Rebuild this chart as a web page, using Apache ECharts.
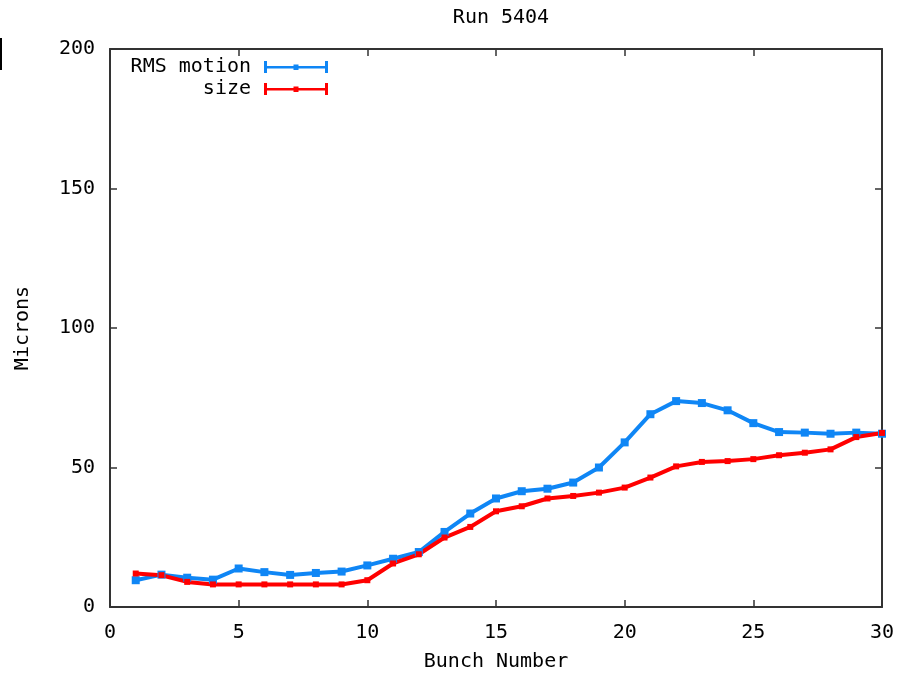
<!DOCTYPE html>
<html><head><meta charset="utf-8">
<script src="https://cdn.jsdelivr.net/npm/echarts@6/dist/echarts.min.js"></script>
<style>html,body{margin:0;padding:0;background:#fff}#c{width:899px;height:674px}</style>
</head><body><div id="c"></div>
<script>
const bunches = [1,2,3,4,5,6,7,8,9,10,11,12,13,14,15,16,17,18,19,20,21,22,23,24,25,26,27,28,29,30];
const rmsMotion = [9.6,11.6,10.5,9.8,13.8,12.5,11.5,12.2,12.7,14.9,17.3,19.7,26.9,33.5,38.9,41.5,42.4,44.6,50.0,59.0,69.1,73.8,73.1,70.5,65.9,62.7,62.5,62.1,62.5,62.1];
const size = [12.0,11.4,9.0,8.1,8.1,8.1,8.1,8.1,8.1,9.6,15.6,18.9,24.9,28.7,34.3,36.1,38.9,39.8,41.0,42.8,46.4,50.4,52.0,52.3,53.0,54.4,55.3,56.5,60.9,62.4];
const yTicks = [0,50,100,150,200];
const xTicks = [0,5,10,15,20,25,30];

const FONT = 'DejaVu Sans Mono';
const FS = 20;
const BLUE = '#0f86f5';
const RED = '#ff0000';
const AX = '#333333';
const legendIcon = 'path://M0,0h3v12h-3z M3,5h58v2.6h-58z M61,0h3v12h-3z M29.5,3.5h5v5.6h-5z';

const chart = echarts.init(document.getElementById('c'), null, {renderer: 'canvas'});
const axisLine = {show: true, onZero: false, lineStyle: {color: AX, width: 2}};
const tick = {show: true, inside: true, length: 7, lineStyle: {color: AX, width: 1.5}};
chart.setOption({
  animation: false,
  backgroundColor: '#ffffff',
  title: {
    text: 'Run 5404', left: 496, top: 3, textAlign: 'center',
    textStyle: {fontFamily: FONT, fontSize: FS, fontWeight: 'normal', color: '#000'}
  },
  legend: [
    {data: ['RMS motion'], right: 566, top: 52, orient: 'vertical', align: 'right',
     itemWidth: 64, itemHeight: 12, itemGap: 10, icon: legendIcon,
     textStyle: {fontFamily: FONT, fontSize: FS, color: '#000', padding: [0, 8, 0, 0]}},
    {data: ['size'], right: 566, top: 74, orient: 'vertical', align: 'right',
     itemWidth: 64, itemHeight: 12, itemGap: 10, icon: legendIcon,
     textStyle: {fontFamily: FONT, fontSize: FS, color: '#000', padding: [0, 8, 0, 0]}}
  ],
  grid: {left: 110, right: 17, top: 49, bottom: 67, containLabel: false, outerBoundsMode: 'none'},
  xAxis: [
    {type: 'value', min: 0, max: 30, interval: 5, position: 'bottom',
     name: 'Bunch Number', nameLocation: 'middle', nameGap: 45,
     nameTextStyle: {fontFamily: FONT, fontSize: FS, color: '#000'},
     axisLine: axisLine, axisTick: tick, splitLine: {show: false},
     axisLabel: {fontFamily: FONT, fontSize: FS, color: '#000', margin: 16,
       formatter: v => xTicks.includes(v) ? String(v) : ''}},
    {type: 'value', min: 0, max: 30, interval: 5, position: 'top',
     axisLine: axisLine, axisTick: tick, axisLabel: {show: false}, splitLine: {show: false}}
  ],
  yAxis: [
    {type: 'value', min: 0, max: 200, interval: 50, position: 'left',
     name: 'Microns', nameLocation: 'middle', nameGap: 77, nameRotate: 90,
     nameTextStyle: {fontFamily: FONT, fontSize: FS, color: '#000'},
     axisLine: axisLine, axisTick: tick, splitLine: {show: false},
     axisLabel: {fontFamily: FONT, fontSize: FS, color: '#000', margin: 15,
       formatter: v => yTicks.includes(v) ? String(v) : ''}},
    {type: 'value', min: 0, max: 200, interval: 50, position: 'right',
     axisLine: axisLine, axisTick: tick, axisLabel: {show: false}, splitLine: {show: false}}
  ],
  graphic: [
    {type: 'line', shape: {x1: 1, y1: 38, x2: 1, y2: 70}, style: {stroke: '#000', lineWidth: 2}}
  ],
  series: [
    {name: 'RMS motion', type: 'line', color: BLUE,
     data: bunches.map((b, i) => [b, rmsMotion[i]]),
     symbol: 'rect', symbolSize: 8, showSymbol: true,
     lineStyle: {width: 4, color: BLUE}, itemStyle: {color: BLUE}},
    {name: 'size', type: 'line', color: RED,
     data: bunches.map((b, i) => [b, size[i]]),
     symbol: 'rect', symbolSize: 6, showSymbol: true,
     lineStyle: {width: 4, color: RED}, itemStyle: {color: RED}}
  ]
});
</script>
</body></html>
